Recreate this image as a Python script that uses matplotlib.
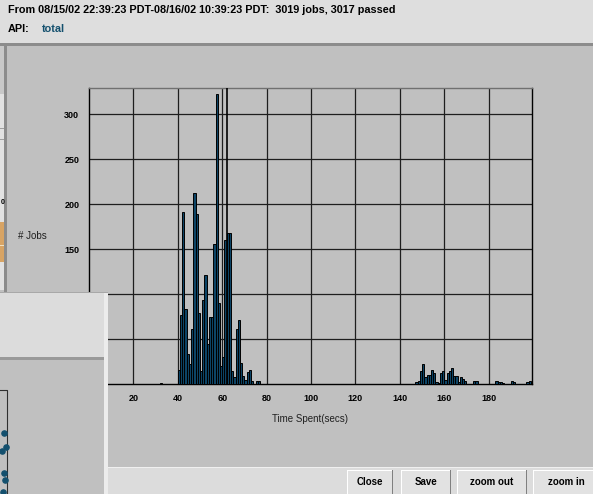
import numpy as np
import matplotlib.pyplot as plt
from matplotlib.patches import Rectangle

plt.rcParams['font.family'] = ['Liberation Sans', 'DejaVu Sans']

# job counts per one-second bin of time spent
time_bins = [32,
             40, 41, 42, 43, 44, 45, 46, 47, 48, 49, 50, 51, 52, 53, 54, 55, 56, 57, 58, 59,
             60, 61, 62, 63, 64, 65, 66, 67, 68, 69, 70, 71, 72, 73, 75, 76,
             147, 148, 149, 150, 151, 152, 153, 154, 155, 156, 157, 158, 159, 160,
             161, 162, 163, 164, 165, 166, 167, 168, 169, 173, 174,
             183, 184, 185, 186, 190, 191, 197, 198]
job_counts = [1,
              16, 77, 191, 83, 33, 22, 61, 212, 189, 79, 14, 93, 121, 44, 74, 74, 156, 322, 90, 20,
              30, 160, 168, 168, 14, 8, 61, 71, 23, 9, 5, 13, 16, 3, 3, 3,
              2, 3, 15, 22, 8, 10, 10, 16, 12, 2, 1, 12, 14, 5,
              12, 14, 18, 9, 9, 2, 8, 6, 3, 3, 3,
              3, 2, 2, 1, 3, 2, 2, 3]
mean_time = 62.2

x_ticks = [20, 40, 60, 80, 100, 120, 140, 160, 180]
y_ticks = [50, 100, 150, 200, 250, 300]
header = "From 08/15/02 22:39:23 PDT-08/16/02 10:39:23 PDT:  3019 jobs, 3017 passed"
api_name = "total"
buttons = ["Close", "Save", "zoom out", "zoom in"]

W, H = 593, 494
fig = plt.figure(figsize=(W / 100, H / 100), dpi=100)
fig.patch.set_facecolor('#c0c0c0')

# window chrome drawn in pixel coordinates
bg = fig.add_axes([0, 0, 1, 1])
bg.set_xlim(0, W)
bg.set_ylim(H, 0)
bg.axis('off')

def box(a, x, y, w, h, color, z=1, **kw):
    a.add_patch(Rectangle((x, y), w, h, facecolor=color, edgecolor='none', zorder=z, **kw))

box(bg, 0, 0, W, 43, '#dedede')
box(bg, 0, 43, W, 3, '#8c8c8c')
box(bg, 4, 43, 3, H - 43, '#8c8c8c')
box(bg, 7, 46, W, H, '#c0c0c0')
# sliver of the window behind
box(bg, 0, 46, 4, 48, '#c8c8c8')
box(bg, 0, 94, 4, 196, '#e2e2e2')
box(bg, 0, 128, 4, 1, '#a0a0a0', z=2)
box(bg, 0, 139, 4, 1, '#a0a0a0', z=2)
box(bg, 0, 222, 4, 40, '#d8a464', z=2)
box(bg, 0, 245, 4, 1, '#f0e0c0', z=3)
bg.text(0.5, 202, "0", fontsize=5, fontweight='bold', va='center', ha='left')

bg.text(8, 10, header, fontsize=7.8, fontweight='bold', va='center', ha='left')
bg.text(8, 29, "API:", fontsize=7.8, fontweight='bold', va='center', ha='left')
bg.text(42, 29, api_name, fontsize=7.8, fontweight='bold', va='center', ha='left', color='#14506e')

bg.text(18, 236, "# Jobs", fontsize=7, va='center', ha='left', color='#202020')
bg.text(310, 419, "Time Spent(secs)", fontsize=7, va='center', ha='center', color='#202020')

# button bar
box(bg, 108, 467, W, 1, '#f0f0f0')
box(bg, 108, 468, W, H - 468, '#dcdcdc')
button_x = [(347, 393), (401, 451), (457, 527), (533, 600)]
for label, (x0, x1) in zip(buttons, button_x):
    box(bg, x0, 470, x1 - x0, 30, '#e2e2e2', z=2)
    box(bg, x0, 470, x1 - x0, 1, '#ffffff', z=3)
    box(bg, x0, 470, 1, 30, '#ffffff', z=3)
    box(bg, x1 - 1, 470, 1, 30, '#808080', z=3)
    bg.text((x0 + x1) / 2, 482, label, fontsize=7, fontweight='bold', va='center', ha='center', zorder=4)

# histogram
ax = fig.add_axes([89 / W, 1 - 384 / H, 443 / W, 296 / H])
ax.set_facecolor('#c0c0c0')
ax.bar(time_bins, job_counts, width=1, align='edge', color='#0c4466',
       edgecolor='black', linewidth=0.7, zorder=3)
ax.axvline(mean_time, color='black', lw=1.2, zorder=4)
ax.set_xlim(0, 199.5)
ax.set_ylim(0, 329)
ax.set_xticks(x_ticks)
ax.set_yticks(y_ticks)
ax.grid(True, color='#1e1e1e', lw=0.9, zorder=1)
ax.tick_params(length=0, labelsize=6.5, pad=7)
for t in ax.get_xticklabels() + ax.get_yticklabels():
    t.set_fontweight('bold')
for s in ax.spines.values():
    s.set_color('black')
    s.set_linewidth(1)
ax.spines['top'].set_color('#707070')

# another window overlapping the lower left corner
ov = fig.add_axes([0, 0, 1, 1], zorder=5)
ov.set_xlim(0, W)
ov.set_ylim(H, 0)
ov.axis('off')
ov.patch.set_alpha(0)
box(ov, 0, 293, 108, H - 293, '#c0c0c0')
box(ov, 0, 293, 108, 65, '#dcdcdc')
box(ov, 0, 357, 108, 3, '#9a9a9a')
box(ov, 0, 292, 108, 1, '#a8a8a8')
box(ov, 104, 293, 4, H - 293, '#ececec')
ov.plot([0, 7, 7], [390, 390, H], color='#303030', lw=0.8)
ov.scatter([4, 6, 2, 4, 5, 3], [433, 447, 451, 473, 480, 492], s=14, color='#14506e', zorder=3)

fig.savefig('out.png', dpi=100)
